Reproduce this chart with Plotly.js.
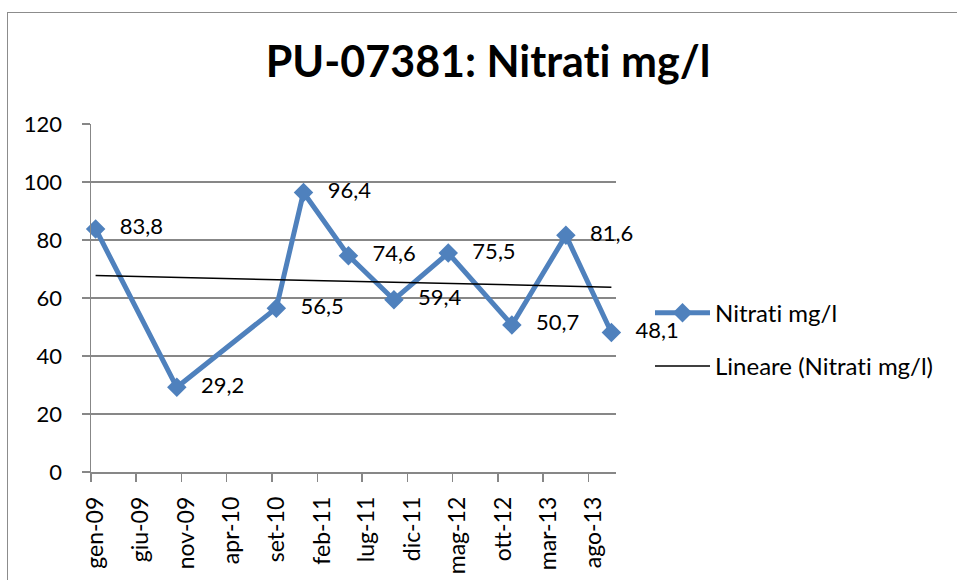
<!DOCTYPE html>
<html>
<head>
<meta charset="utf-8">
<script src="https://cdn.plot.ly/plotly-3.0.1.min.js"></script>
<style>
  html, body { margin: 0; padding: 0; background: #fff; }
  #wrap { position: relative; width: 957px; height: 580px; overflow: hidden; }
  #chart { width: 957px; height: 580px; }
  #frame { position: absolute; left: 7px; top: 12px; width: 1000px; height: 700px;
           border-left: 1.5px solid #8c8c8c; border-top: 1.5px solid #8c8c8c; pointer-events: none; }
  svg text { font-variant-ligatures: none; font-feature-settings: "liga" 0, "clig" 0; }
</style>
</head>
<body>
<div id="wrap"><div id="chart"></div><div id="frame"></div></div>
<script>
// Sampling months (each point sits in the middle of its month slot)
const months = ['2009-01','2009-10','2010-09','2010-12','2011-05','2011-10','2012-04','2012-11','2013-05','2013-10'];
// Nitrati mg/l values
const nitrati = [83.8, 29.2, 56.5, 96.4, 74.6, 59.4, 75.5, 50.7, 81.6, 48.1];
// X axis ticks (every 5 months)
const tickDates = ['2009-01-01','2009-06-01','2009-11-01','2010-04-01','2010-09-01','2011-02-01','2011-07-01','2011-12-01','2012-05-01','2012-10-01','2013-03-01','2013-08-01'];
const tickLabels = ['gen-09','giu-09','nov-09','apr-10','set-10','feb-11','lug-11','dic-11','mag-12','ott-12','mar-13','ago-13'];
const yTicks = [0, 20, 40, 60, 80, 100, 120];

const labels = nitrati.map(v => v.toFixed(1).replace('.', ','));

// Linear trend (least squares on month index), like Excel's "Lineare"
const mIdx = months.map(m => { const [y, mo] = m.split('-').map(Number); return (y - 2009) * 12 + (mo - 1); });
const n = mIdx.length;
const mx = mIdx.reduce((a, b) => a + b, 0) / n;
const my = nitrati.reduce((a, b) => a + b, 0) / n;
let sxy = 0, sxx = 0;
for (let i = 0; i < n; i++) { sxy += (mIdx[i] - mx) * (nitrati[i] - my); sxx += (mIdx[i] - mx) ** 2; }
const slope = sxy / sxx, icpt = my - slope * mx;
const trendX = [months[0], months[n - 1]];
const trendY = [icpt + slope * mIdx[0], icpt + slope * mIdx[n - 1]];

const FONT = 'Lato, "Open Sans", sans-serif';
const BLUE = '#4F81BD';
const GRID = '#878787';

const traces = [
  {
    x: months, y: nitrati, type: 'scatter', mode: 'lines+markers',
    xperiod: 'M1', xperiodalignment: 'middle', cliponaxis: false,
    name: 'Nitrati mg/l', legendgroup: 'a',
    line: { color: BLUE, width: 5 },
    marker: { symbol: 'diamond', size: 15, color: BLUE },
    hoverinfo: 'x+y'
  },
  {
    x: trendX, y: trendY, type: 'scatter', mode: 'lines',
    xperiod: 'M1', xperiodalignment: 'middle', cliponaxis: false,
    name: 'Lineare (Nitrati mg/l)', legendgroup: 'b',
    line: { color: '#000', width: 1.5 },
    hoverinfo: 'skip'
  },
  {
    x: months, y: nitrati, type: 'scatter', mode: 'markers+text',
    xperiod: 'M1', xperiodalignment: 'middle', cliponaxis: false,
    text: labels, textposition: 'middle right',
    textfont: { family: FONT, size: 22, color: '#000' },
    marker: { size: 37, opacity: 0 },
    showlegend: false, hoverinfo: 'skip'
  }
];

const layout = {
  width: 957, height: 580,
  margin: { l: 91, r: 341, t: 124, b: 108, pad: 0 },
  paper_bgcolor: 'rgba(0,0,0,0)', plot_bgcolor: '#fff',
  font: { family: FONT, size: 22, color: '#000' },
  title: {
    text: 'PU-07381: Nitrati mg/l',
    font: { family: FONT, size: 43, weight: 700, color: '#000' },
    xref: 'container', x: 0.51, xanchor: 'center',
    yref: 'container', y: 1 - 62 / 580, yanchor: 'middle'
  },
  xaxis: {
    type: 'date',
    range: ['2009-01-01', '2013-11-01'],
    tickmode: 'array', tickvals: tickDates, ticktext: tickLabels,
    tickangle: -90,
    showgrid: false, zeroline: false,
    showline: true, linecolor: GRID, linewidth: 1.5,
    ticks: 'outside', ticklen: 8, tickcolor: GRID, tickwidth: 1.5,
    ticklabelstandoff: 6, ticklabelshift: 5,
    tickfont: { family: FONT, size: 23, color: '#000' },
    fixedrange: true
  },
  yaxis: {
    range: [0, 120], tickmode: 'array', tickvals: yTicks,
    showgrid: true, gridcolor: GRID, gridwidth: 1.5,
    zeroline: false,
    showline: true, linecolor: GRID, linewidth: 1.5,
    ticks: 'outside', ticklen: 8, tickcolor: GRID, tickwidth: 1.5,
    ticklabelstandoff: 15,
    tickfont: { family: FONT, size: 22, color: '#000' },
    fixedrange: true
  },
  showlegend: true,
  legend: {
    x: (650 - 91) / 525, xanchor: 'left',
    y: (472.5 - 340) / 348.5, yanchor: 'middle',
    font: { family: FONT, size: 24, color: '#000' },
    bgcolor: 'rgba(0,0,0,0)', borderwidth: 0,
    itemwidth: 55, tracegroupgap: 19
  }
};

Plotly.newPlot('chart', traces, layout, { displayModeBar: false, staticPlot: true });
</script>
</body>
</html>
